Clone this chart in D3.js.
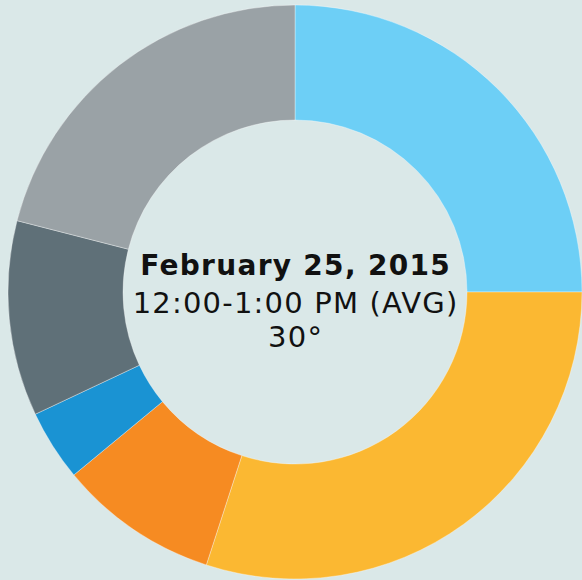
<!DOCTYPE html>
<html>
<head>
<meta charset="utf-8">
<script src="https://cdn.jsdelivr.net/npm/d3@7"></script>
<style>
  html, body { margin: 0; padding: 0; background: #dae8e8; }
  svg { display: block; }
</style>
</head>
<body>
<svg width="582" height="580"></svg>
<script>
var categories = ["Segment A", "Segment B", "Segment C", "Segment D", "Segment E", "Segment F"];
var values = [25, 30, 9, 4, 11, 21];
var colors = ["#6dcff6", "#fbb832", "#f68b22", "#1a93d3", "#5f7078", "#9aa2a6"];
var titleLines = ["February 25, 2015", "12:00-1:00 PM (AVG)", "30°"];

var svg = d3.select("svg"),
    width = +svg.attr("width"),
    height = +svg.attr("height");

var cx = 295, cy = 292,
    outerR = 287, innerR = 172;

svg.append("rect")
    .attr("width", width)
    .attr("height", height)
    .attr("fill", "#dae8e8");

var data = categories.map(function (c, i) { return { name: c, value: values[i], color: colors[i] }; });

var pie = d3.pie()
    .sort(null)
    .value(function (d) { return d.value; });

var arc = d3.arc()
    .innerRadius(innerR)
    .outerRadius(outerR);

var g = svg.append("g")
    .attr("transform", "translate(" + cx + "," + cy + ")");

g.selectAll("path")
    .data(pie(data))
    .enter().append("path")
    .attr("d", arc)
    .attr("fill", function (d) { return d.data.color; })
    .attr("stroke", "rgba(255,255,255,0.35)")
    .attr("stroke-width", 1);

var text = g.append("g")
    .attr("font-family", "'DejaVu Sans', Verdana, sans-serif")
    .attr("fill", "#111")
    .attr("text-anchor", "middle");

// letter-spacing pads the end too, so shift back by half of it
text.append("text")
    .attr("y", -17)
    .attr("dx", 0.6)
    .attr("font-size", 28)
    .attr("font-weight", "bold")
    .attr("letter-spacing", 1.3)
    .text(titleLines[0]);

text.append("text")
    .attr("y", 21)
    .attr("dx", 0.6)
    .attr("font-size", 29)
    .attr("letter-spacing", 1.2)
    .text(titleLines[1]);

text.append("text")
    .attr("y", 55)
    .attr("dx", 0.6)
    .attr("font-size", 29)
    .attr("letter-spacing", 1.2)
    .text(titleLines[2]);
</script>
</body>
</html>
